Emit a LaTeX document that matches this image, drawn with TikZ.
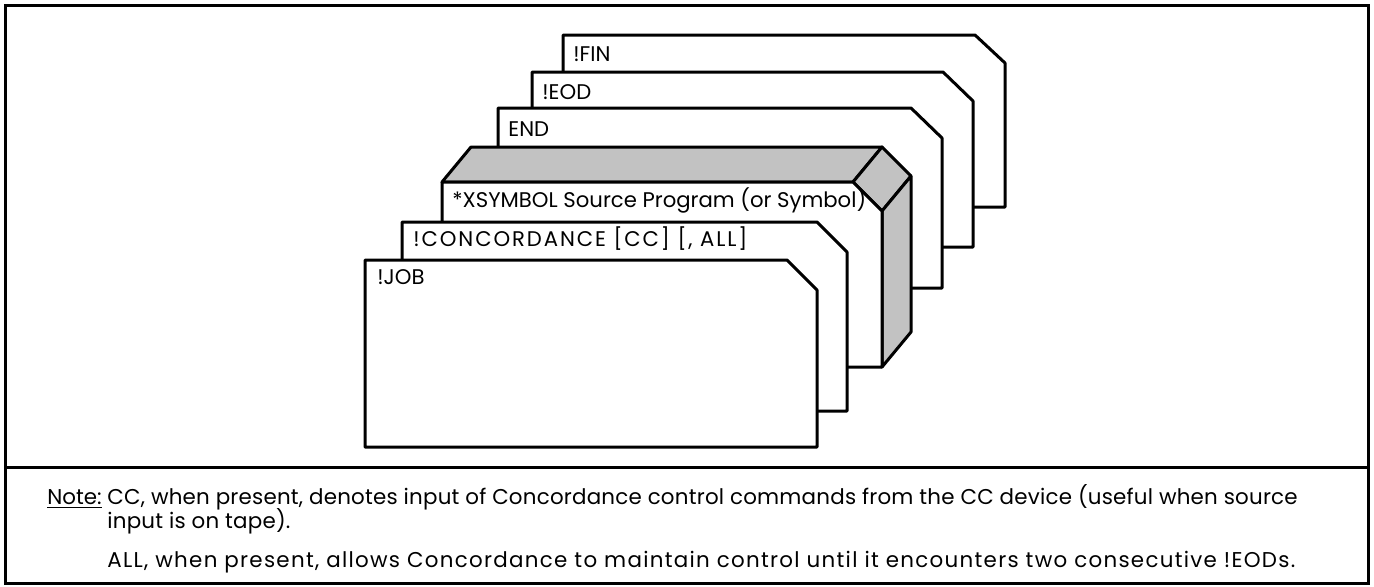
\documentclass[tikz,border=0pt]{standalone}
\usepackage{fontspec}
\setmainfont{Poppins}
\begin{document}
\begin{tikzpicture}[x=0.5pt,y=-0.5pt,
  card/.style={draw,line width=1.5pt,fill=white,line join=round},
  shaded/.style={draw,line width=1.5pt,fill=black!24,line join=round},
  cardtext/.style={anchor=base west,inner sep=0pt,font=\fontsize{10.6}{12}\selectfont},
  notetext/.style={anchor=base west,inner sep=0pt,font=\fontsize{10.7}{12}\selectfont}]
\useasboundingbox (0,0) rectangle (1374,586) ;
% \draw [help lines,step=50] (0,0) grid (1374,586) ;
\draw [line width=1.5pt] (5,5) rectangle (1368,583) ;
\draw [line width=1.5pt] (5,467) -- (1368,467) ;
% cards, back to front
\draw [card] (563,35) -- (975,35) -- (1005,63) -- (1005,207) -- (563,207) -- cycle ;
\node [cardtext] (fin) at (573,61) {!FIN} ;
\draw [card] (532,72) -- (943,72) -- (973,101) -- (973,247) -- (532,247) -- cycle ;
\node [cardtext] (eod) at (542,99) {!EOD} ;
\draw [card] (498,108) -- (911,108) -- (942,138) -- (942,288) -- (498,288) -- cycle ;
\node [cardtext] (endcard) at (508,136) {END} ;
% source deck, drawn as a block
\draw [shaded] (442,182) -- (471,147) -- (882,147) -- (853,182) -- cycle ;
\draw [shaded] (853,182) -- (882,147) -- (911,176) -- (882,211) -- cycle ;
\draw [shaded] (882,211) -- (911,176) -- (911,332) -- (882,367) -- cycle ;
\draw [card] (442,182) -- (853,182) -- (882,211) -- (882,367) -- (442,367) -- cycle ;
\node [cardtext] (xsym) at (452,207) {*XSYMBOL Source Program (or Symbol)} ;
\draw [card] (402,222) -- (817,222) -- (847,252) -- (847,411) -- (402,411) -- cycle ;
\node [cardtext] (conc) at (413,246) {\addfontfeature{LetterSpace=9}!CONCORDANCE [CC] [, ALL]} ;
\draw [card] (365,260) -- (787,260) -- (817,290) -- (817,447) -- (365,447) -- cycle ;
\node [cardtext] (job) at (377,284) {!JOB} ;
% note
\node [notetext] (note) at (47,504) {\underline{Note:}} ;
\node [notetext] (cc) at (107,504) {\addfontfeature{LetterSpace=1}CC, when present, denotes input of Concordance control commands from the CC device (useful when source} ;
\node [notetext] (tape) at (107,528) {\addfontfeature{LetterSpace=1}input is on tape).} ;
\node [notetext] (all) at (107,567) {\addfontfeature{LetterSpace=6}ALL, when present, allows Concordance to maintain control until it encounters two consecutive !EODs.} ;
\end{tikzpicture}
\end{document}
